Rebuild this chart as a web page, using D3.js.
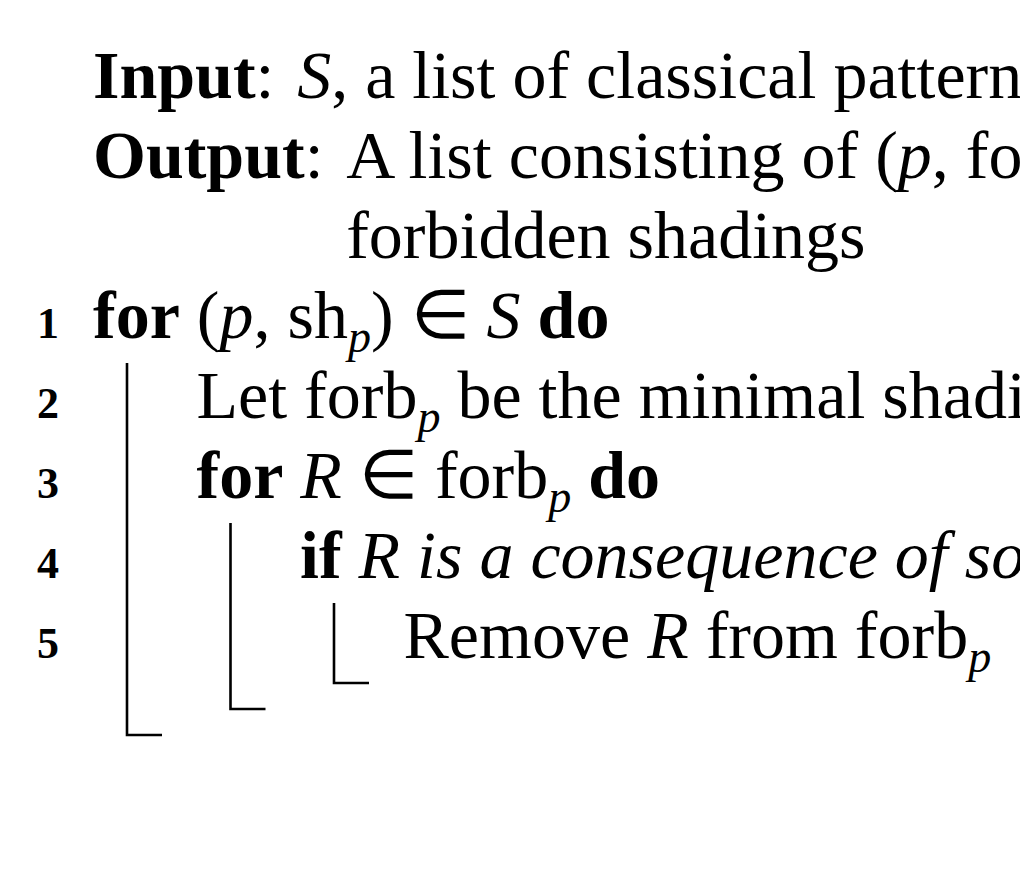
<!DOCTYPE html>
<html>
<head>
<meta charset="utf-8">
<script src="https://cdn.jsdelivr.net/npm/d3@7"></script>
<style>
  html, body { margin: 0; padding: 0; background: #fff; overflow: hidden; }
  text { font-family: "Liberation Serif", "Times New Roman", serif; fill: #000; }
</style>
</head>
<body>
<script>
// Header rows (Input / Output), each a list of [style, text] pieces
const headerLabels = ['Input', 'Output']
const headerPieces = [
  [['r', ':\u2004'], ['i', 'S'], ['r', ', a list of classical patterns with shadings']],
  [['r', ':\u2004'], ['r', 'A list consisting of ('], ['i', 'p'], ['r', ', forb'], ['s', 'p'], ['r', ') for each pattern and its']]
]
const headerWrap = [['r', 'forbidden shadings']]

// Numbered algorithm lines
const lineNumbers = ['1', '2', '3', '4', '5']
const lineIndents = [0, 1, 1, 2, 3]
const linePieces = [
  [['b', 'for'], ['r', ' ('], ['i', 'p'], ['r', ', sh'], ['s', 'p'], ['r', ') \u2208 '], ['i', 'S'], ['r', ' '], ['b', 'do']],
  [['r', 'Let forb'], ['s', 'p'], ['r', ' be the minimal shadings of '], ['i', 'p']],
  [['b', 'for'], ['r', ' '], ['i', 'R'], ['r', ' \u2208 forb'], ['s', 'p'], ['r', ' '], ['b', 'do']],
  [['b', 'if'], ['r', ' '], ['i', 'R is a consequence of some other shading then']],
  [['r', 'Remove '], ['i', 'R'], ['r', ' from forb'], ['s', 'p']]
]

// Blocks: [line that opens it, last line of its body]
const blockStarts = [1, 3, 4]
const blockEnds = [5, 5, 5]

const W = 1020, H = 874
const fontSize = 68
const subSize = 46
const subDrop = 14

const svg = d3.select('body').append('svg')
  .attr('width', W)
  .attr('height', H)

// row 0 = Input, 1 = Output, 2 = wrapped output, 3.. = numbered lines
const y = d3.scaleLinear().domain([0, 7]).range([98, 98 + 7 * 80])
const x = d3.scaleLinear().domain([0, 3]).range([93, 403.5])

function addPieces(sel, pieces) {
  let pending = 0
  pieces.forEach(p => {
    const t = sel.append('tspan').text(p[1])
    if (p[0] === 'b') t.attr('font-weight', 'bold')
    if (p[0] === 'i') t.attr('font-style', 'italic')
    if (p[0] === 's') {
      t.attr('font-style', 'italic').attr('font-size', subSize).attr('dy', subDrop + pending)
      pending = -subDrop
    } else if (pending) {
      // back up to the baseline after a subscript
      t.attr('dy', pending)
      pending = 0
    }
  })
}

// Header rows
let hangX = x(0)
headerLabels.forEach((lab, i) => {
  const t = svg.append('text')
    .attr('x', x(0))
    .attr('y', y(i))
    .attr('font-size', fontSize)
  const b = t.append('tspan').attr('font-weight', 'bold').text(lab)
  addPieces(t, headerPieces[i])
  if (lab === 'Output') {
    // the wrapped part hangs under the first word after the colon
    hangX = x(0) + b.node().getComputedTextLength() + t.node().getSubStringLength(lab.length, 2)
  }
})

const wrap = svg.append('text')
  .attr('x', hangX)
  .attr('y', y(2))
  .attr('font-size', fontSize)
addPieces(wrap, headerWrap)

// Line numbers
svg.selectAll('text.num')
  .data(lineNumbers)
  .enter()
  .append('text')
    .attr('class', 'num')
    .attr('x', 59)
    .attr('y', (d, i) => y(i + 3))
    .attr('text-anchor', 'end')
    .attr('font-size', 44)
    .attr('font-weight', 'bold')
    .text(d => d)

// Line bodies
linePieces.forEach((pieces, i) => {
  const t = svg.append('text')
    .attr('x', x(lineIndents[i]))
    .attr('y', y(i + 3))
    .attr('font-size', fontSize)
  addPieces(t, pieces)
})

// Block rules (vertical bar with a foot)
const maxLevel = d3.max(blockStarts, s => lineIndents[s - 1])
blockStarts.forEach((s, k) => {
  const lvl = lineIndents[s - 1]
  const bx = x(lvl) + 34
  const top = y(s + 2) + 25
  const bottom = y(blockEnds[k] + 2) + 25 + 26 * (maxLevel - lvl)
  svg.append('path')
    .attr('d', d3.line()([[bx, top], [bx, bottom], [bx + 35, bottom]]))
    .attr('fill', 'none')
    .attr('stroke', '#000')
    .attr('stroke-width', 2.6)
})
</script>
</body>
</html>
